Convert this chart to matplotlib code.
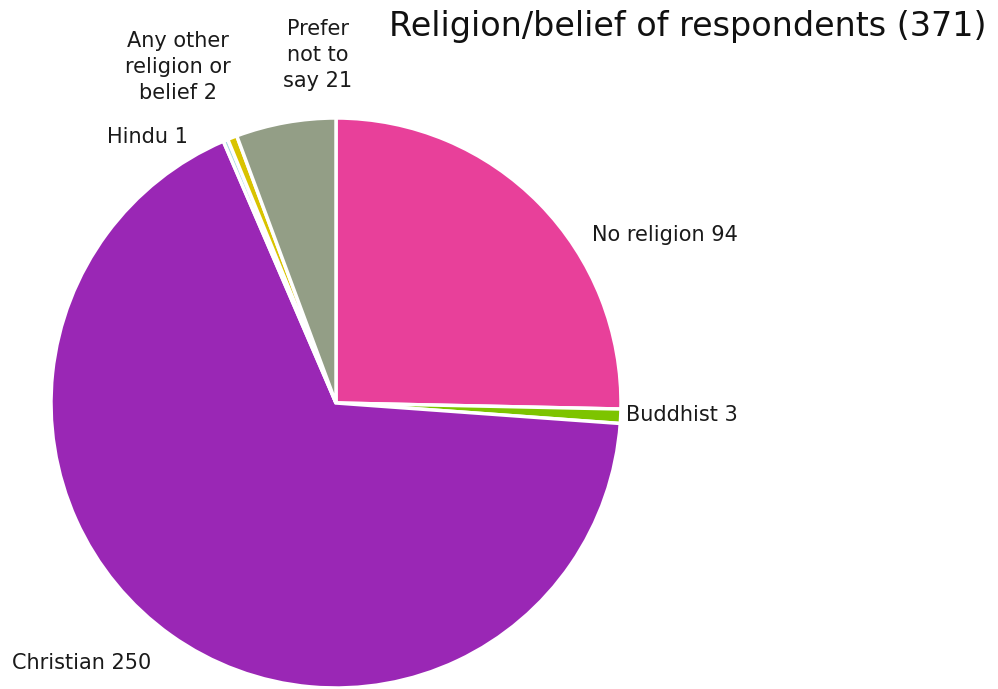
import matplotlib
matplotlib.use("Agg")
import matplotlib.pyplot as plt

categories = ["No religion", "Buddhist", "Christian", "Hindu",
              "Any other religion or belief", "Prefer not to say"]
counts = [94, 3, 250, 1, 2, 21]
colors = ["#E8409A", "#7DC400", "#9A27B5", "#A8D8E0", "#D9C300", "#939E86"]
label_text = ["No religion 94", "Buddhist 3", "Christian 250", "Hindu 1",
              "Any other\nreligion or\nbelief 2", "Prefer\nnot to\nsay 21"]

# label anchor points in pie units (radius 1)
label_pos = [(0.898, 0.589, "left"), (1.018, -0.042, "left"),
             (-1.137, -0.912, "left"), (-0.66, 0.933, "center"),
             (-0.554, 1.179, "center"), (-0.063, 1.221, "center")]

plt.rcParams['font.family'] = ['DejaVu Sans']

fig = plt.figure(figsize=(9.98, 6.89), dpi=100)
ax = fig.add_axes([51 / 998, 1 / 689, 570 / 998, 570 / 689])

ax.pie(counts, colors=colors, startangle=90, counterclock=False,
       wedgeprops={"edgecolor": "white", "linewidth": 2.5})
ax.set_xlim(-1, 1)
ax.set_ylim(-1, 1)
ax.set_aspect("equal")

for txt, (x, y, ha) in zip(label_text, label_pos):
    ax.text(x, y, txt, ha=ha, va="center", fontsize=15, color="#1a1a1a",
            linespacing=1.4, clip_on=False)

fig.text(0.39, 0.962, "Religion/belief of respondents (371)", fontsize=24,
         color="#111111", ha="left", va="center")

fig.savefig("out.png", dpi=100)
